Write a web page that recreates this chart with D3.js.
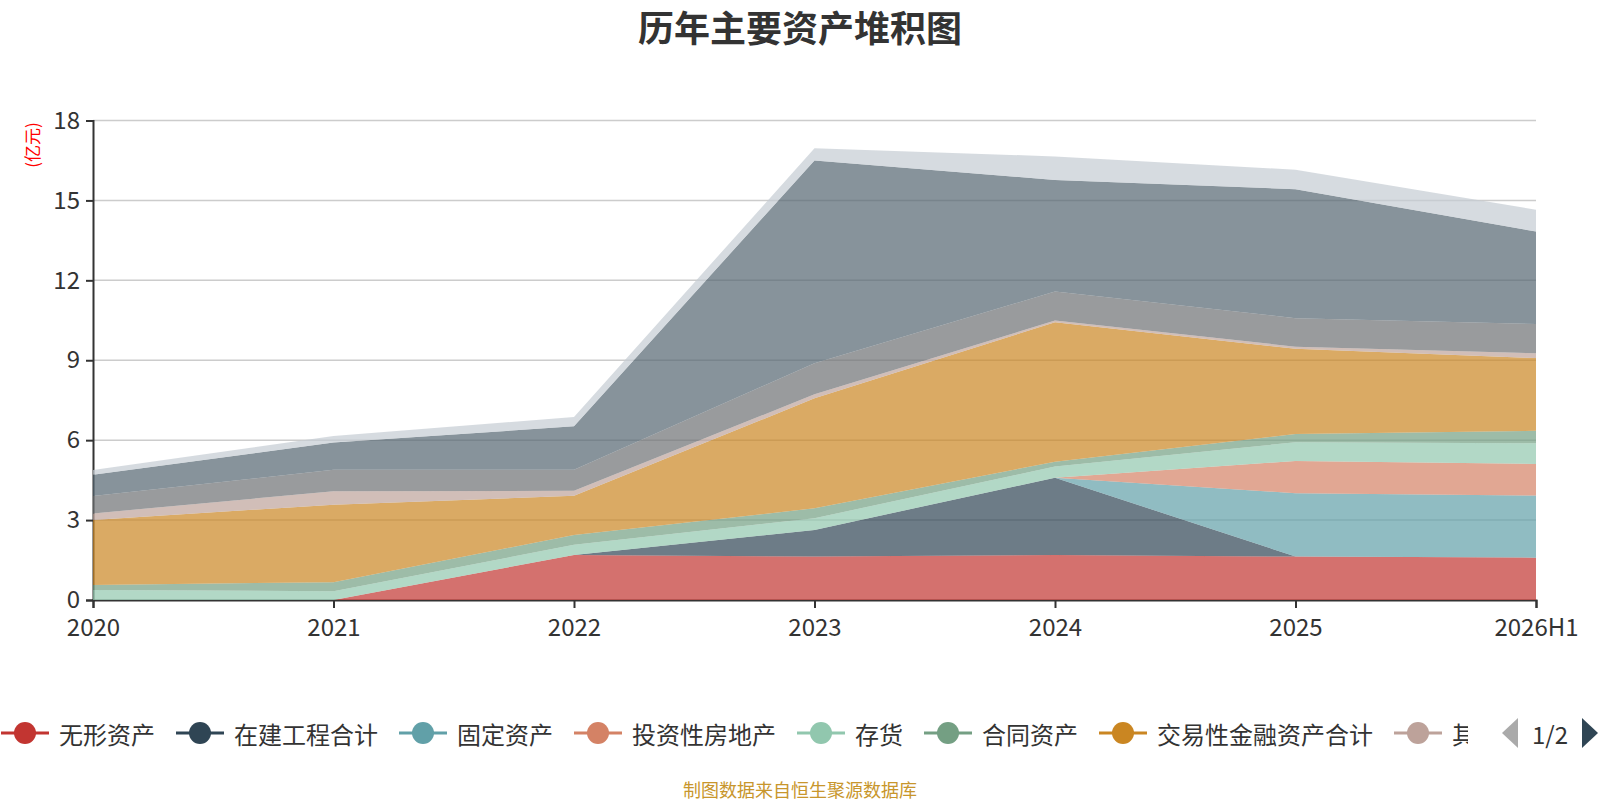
<!DOCTYPE html>
<html>
<head>
<meta charset="utf-8">
<script src="https://cdn.jsdelivr.net/npm/d3@7/dist/d3.min.js"></script>
<style>
  html, body { margin: 0; padding: 0; background: #fff; }
  svg { display: block; font-family: "Noto Sans CJK SC", "Noto Sans", sans-serif; }
</style>
</head>
<body>
<svg id="chart" width="1600" height="800"></svg>
<script>
// ---- data (亿元) ----
const categories = ["2020", "2021", "2022", "2023", "2024", "2025", "2026H1"];
const seriesNames = ["无形资产", "在建工程合计", "固定资产", "投资性房地产", "存货", "合同资产",
                     "交易性金融资产合计", "其他非流动金融资产", "应收账款", "货币资金", "预付款项"];
const intangible     = [0.00, 0.00, 1.69, 1.63, 1.69, 1.63, 1.59];
const construction   = [0.00, 0.00, 0.00, 1.00, 2.90, 0.00, 0.00];
const fixedAssets    = [0.00, 0.00, 0.00, 0.00, 0.00, 2.38, 2.33];
const investProperty = [0.00, 0.00, 0.00, 0.00, 0.00, 1.21, 1.19];
const inventory      = [0.38, 0.33, 0.38, 0.44, 0.42, 0.70, 0.77];
const contractAssets = [0.18, 0.34, 0.37, 0.37, 0.18, 0.31, 0.47];
const tradingAssets  = [2.44, 2.91, 1.47, 4.13, 5.24, 3.20, 2.73];
const otherFinAssets = [0.25, 0.50, 0.19, 0.15, 0.06, 0.08, 0.18];
const receivables    = [0.65, 0.81, 0.79, 1.17, 1.09, 1.07, 1.10];
const cash           = [0.80, 1.02, 1.63, 7.61, 4.19, 4.84, 3.47];
const prepayments    = [0.18, 0.25, 0.35, 0.46, 0.88, 0.73, 0.82];
const yTicks = [0, 3, 6, 9, 12, 15, 18];
const colors = ['#c23531','#2f4554','#61a0a8','#d48265','#91c7ae','#749f83','#ca8622','#bda29a','#6e7074','#546570','#c4ccd3'];

const seriesValues = [intangible, construction, fixedAssets, investProperty, inventory, contractAssets,
                      tradingAssets, otherFinAssets, receivables, cash, prepayments];

// table for d3.stack
const table = categories.map((c, i) => {
  const row = { cat: c };
  seriesNames.forEach((n, k) => row[n] = seriesValues[k][i]);
  return row;
});

const svg = d3.select("#chart");
const plotLeft = 93, plotRight = 1536, plotTop = 120.5, plotBottom = 600;

const x = d3.scalePoint().domain(categories).range([plotLeft, plotRight]).padding(0);
const y = d3.scaleLinear().domain([0, 18]).range([plotBottom, plotTop]);

// title
svg.append("text").attr("x", 800).attr("y", 26)
  .attr("text-anchor", "middle").attr("dominant-baseline", "central")
  .attr("font-size", 36).attr("font-weight", "bold").attr("fill", "#333")
  .text("历年主要资产堆积图");

// grid lines
svg.append("g").selectAll("line").data(yTicks.filter(t => t > 0)).join("line")
  .attr("x1", plotLeft).attr("x2", plotRight)
  .attr("y1", d => y(d)).attr("y2", d => y(d))
  .attr("stroke", "#ccc").attr("stroke-width", 1.5);

// axes
const yAxis = svg.append("g").attr("transform", `translate(${plotLeft},0)`)
  .call(d3.axisLeft(y).tickValues(yTicks).tickSize(7).tickPadding(6));
const xAxis = svg.append("g").attr("transform", `translate(0,${plotBottom})`)
  .call(d3.axisBottom(x).tickSize(8).tickPadding(6));
[yAxis, xAxis].forEach(g => {
  g.select(".domain").attr("stroke", "#333").attr("stroke-width", 2);
  g.selectAll(".tick line").attr("stroke", "#333").attr("stroke-width", 2);
  g.selectAll(".tick text").attr("fill", "#333").attr("font-size", 24)
    .attr("font-family", "\"Noto Sans CJK SC\", sans-serif");
});
xAxis.selectAll(".tick text").attr("dy", "0.9em");

// y-axis name
svg.append("text").attr("transform", "translate(31,145) rotate(-90)")
  .attr("text-anchor", "middle").attr("dominant-baseline", "central")
  .attr("font-size", 17).attr("fill", "#ff0000").text("(亿元)");

// stacked areas
const stack = d3.stack().keys(seriesNames);
const layers = stack(table);
const area = d3.area()
  .x(d => x(d.data.cat))
  .y0(d => y(d[0]))
  .y1(d => y(d[1]));
svg.append("g").selectAll("path").data(layers).join("path")
  .attr("d", area)
  .attr("fill", (d, i) => colors[i])
  .attr("fill-opacity", 0.7);

// legend (scroll style, page 1)
const legendY = 733;
const clip = svg.append("clipPath").attr("id", "legclip");
clip.append("rect").attr("x", 0).attr("y", legendY - 25).attr("width", 1468).attr("height", 50);
const leg = svg.append("g").attr("clip-path", "url(#legclip)");
let cx = 1;
seriesNames.slice(0, 8).forEach((name, i) => {
  const g = leg.append("g").attr("transform", `translate(${cx},${legendY})`);
  g.append("line").attr("x1", 0).attr("x2", 48).attr("y1", 0).attr("y2", 0)
    .attr("stroke", colors[i]).attr("stroke-width", 3);
  g.append("circle").attr("cx", 24).attr("cy", 0).attr("r", 11).attr("fill", colors[i]);
  const t = g.append("text").attr("x", 58).attr("y", 0).attr("dominant-baseline", "central")
    .attr("font-size", 24).attr("fill", "#333").text(name);
  const w = t.node().getComputedTextLength();
  cx += 58 + w + 21;
});
// pager
svg.append("path").attr("d", d3.line()([[1518, legendY - 15], [1518, legendY + 15], [1502, legendY]]))
  .attr("fill", "#aaa");
svg.append("text").attr("x", 1550).attr("y", legendY).attr("text-anchor", "middle")
  .attr("dominant-baseline", "central").attr("font-size", 24).attr("fill", "#333").text("1/2");
svg.append("path").attr("d", d3.line()([[1582, legendY - 15], [1582, legendY + 15], [1598, legendY]]))
  .attr("fill", "#2f4554");

// footer
svg.append("text").attr("x", 800).attr("y", 789).attr("text-anchor", "middle")
  .attr("dominant-baseline", "central").attr("font-size", 18).attr("fill", "#c8962c")
  .text("制图数据来自恒生聚源数据库");
</script>
</body>
</html>
